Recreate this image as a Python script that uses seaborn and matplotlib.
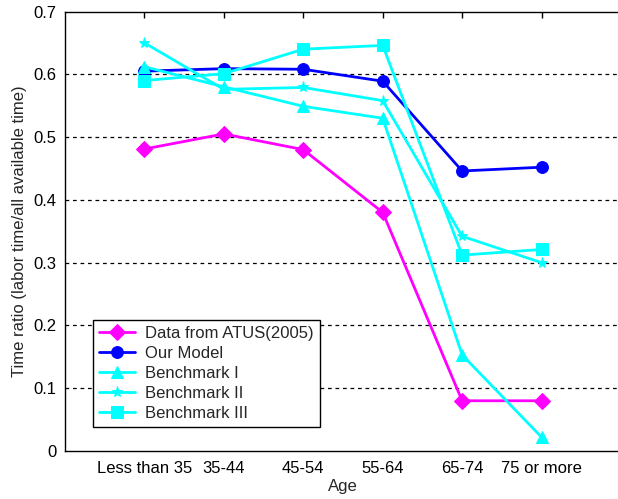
import matplotlib
matplotlib.use("Agg")
import matplotlib.pyplot as plt
import seaborn as sns
import numpy as np
import pandas as pd

categories = ["Less than 35", "35-44", "45-54", "55-64", "65-74", "75 or more"]
atus = [0.481, 0.505, 0.480, 0.380, 0.080, 0.080]
our_model = [0.605, 0.609, 0.608, 0.589, 0.446, 0.452]
bench1 = [0.612, 0.580, 0.549, 0.530, 0.153, 0.022]
bench2 = [0.650, 0.576, 0.579, 0.558, 0.342, 0.300]
bench3 = [0.590, 0.601, 0.640, 0.646, 0.312, 0.321]
series_names = ["Data from ATUS(2005)", "Our Model", "Benchmark I", "Benchmark II", "Benchmark III"]
yticklabels = ["0", "0.1", "0.2", "0.3", "0.4", "0.5", "0.6", "0.7"]

sns.set_style("white")
plt.rcParams["font.family"] = ["Liberation Sans", "DejaVu Sans"]
plt.rcParams["font.size"] = 12

fig = plt.figure(figsize=(6.18, 4.99), dpi=100)
ax = fig.add_axes([65 / 618, 48 / 499, 556 / 618, 439.5 / 499])

xpos = np.arange(1, len(categories) + 1)
styles = [
    (atus, "#ff00ff", "D", 8),
    (our_model, "#0000ff", "o", 8.5),
    (bench1, "#00ffff", "^", 9),
    (bench2, "#00ffff", "*", 8),
    (bench3, "#00ffff", "s", 8.5),
]
for name, (vals, col, mk, ms) in zip(series_names, styles):
    df = pd.DataFrame({"x": xpos, "y": vals})
    sns.lineplot(data=df, x="x", y="y", ax=ax, color=col, marker=mk,
                 markersize=ms, markeredgecolor=col, markerfacecolor=col,
                 linewidth=2, label=name, zorder=3)

ax.set_xlim(0, 7)
ax.set_ylim(0, 0.7)
ax.set_xticks(xpos)
ax.set_xticklabels(categories)
ax.set_yticks(np.arange(0, 0.71, 0.1))
ax.set_yticklabels(yticklabels)
ax.set_xlabel("Age", labelpad=2)
ax.set_ylabel("Time ratio (labor time/all available time)", labelpad=5)

for yv in np.arange(0.1, 0.65, 0.1):
    ax.axhline(yv, color="black", linestyle=(0, (3, 3)), linewidth=0.9, zorder=1)

for sp in ax.spines.values():
    sp.set_color("black")
    sp.set_linewidth(1)
ax.tick_params(axis="both", direction="in", length=4, width=1, colors="black",
               top=True, right=False, labelsize=12)
ax.tick_params(axis="x", pad=7)
ax.tick_params(axis="y", pad=6)

leg = ax.legend(loc="upper left", bbox_to_anchor=(0.05, 0.298), frameon=True,
                fancybox=False, shadow=False, fontsize=12, handlelength=2.2,
                borderpad=0.35, labelspacing=0.3, handletextpad=0.6,
                borderaxespad=0)
leg.get_frame().set_edgecolor("black")
leg.get_frame().set_linewidth(1)
leg.get_frame().set_alpha(1)

fig.savefig("out.png", dpi=100)
